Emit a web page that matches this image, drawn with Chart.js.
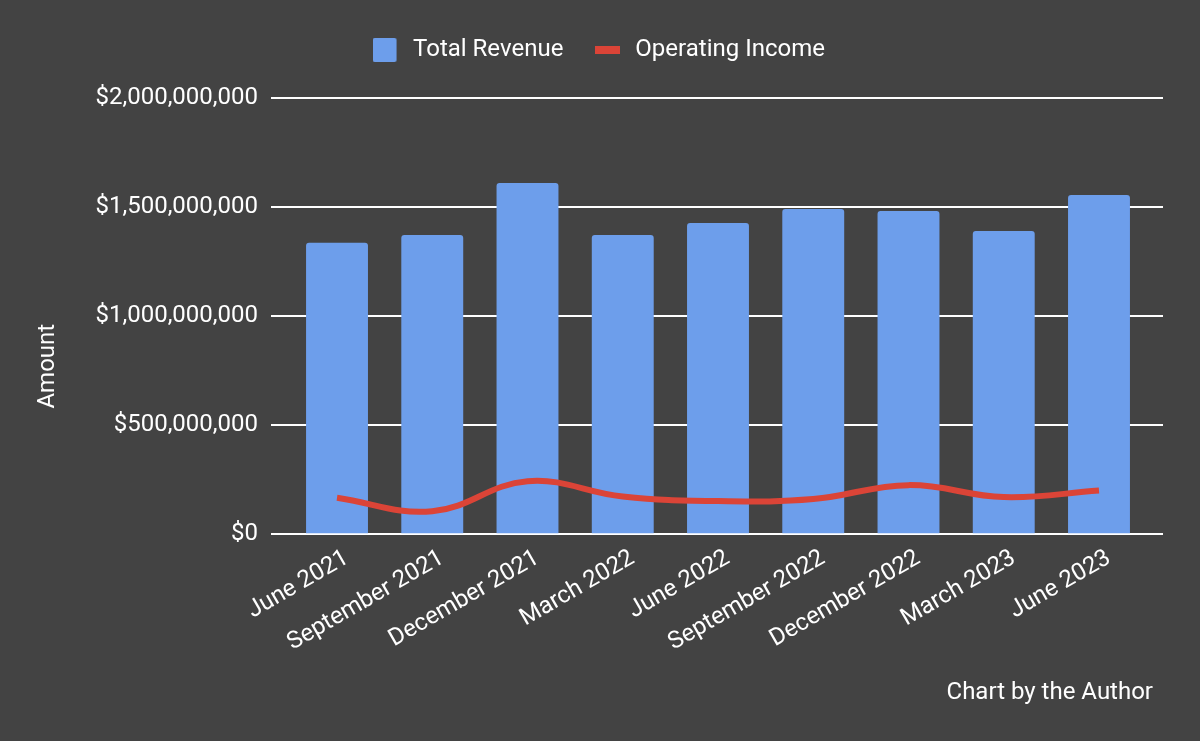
<!DOCTYPE html>
<html>
<head>
<meta charset="utf-8">
<script src="https://cdn.jsdelivr.net/npm/chart.js@4.4.1/dist/chart.umd.min.js"></script>
<style>
  html, body { margin: 0; padding: 0; background: #434343; }
  #chart { display: block; background: #434343; }
</style>
</head>
<body>
<canvas id="chart" width="1200" height="741"></canvas>
<script>
// quarterly figures
const quarters = [
  "June 2021", "September 2021", "December 2021", "March 2022", "June 2022",
  "September 2022", "December 2022", "March 2023", "June 2023",
];
const totalRevenue = [1.336e9, 1.372e9, 1.610e9, 1.372e9, 1.427e9, 1.491e9, 1.482e9, 1.390e9, 1.555e9];
const operatingIncome = [0.167e9, 0.105e9, 0.243e9, 0.173e9, 0.152e9, 0.161e9, 0.225e9, 0.170e9, 0.200e9];
const yTickValues = [0, 5e8, 1e9, 1.5e9, 2e9];

const BG = "#434343";
const BLUE = "#6d9eeb";
const RED = "#db4437";
const TEXT = "#ffffff";
const FONT = "Roboto, 'Noto Sans', sans-serif";
const SIZE = 24;

Chart.defaults.font.family = FONT;
Chart.defaults.color = TEXT;

// little legend glyphs: rounded square for the bars, thick dash for the line
function legendGlyph(kind) {
  const c = document.createElement("canvas");
  c.width = 25;
  c.height = 24;
  const g = c.getContext("2d");
  if (kind === "bar") {
    g.fillStyle = BLUE;
    g.beginPath();
    g.roundRect(0, 0, 24, 24, 2);
    g.fill();
  } else {
    g.fillStyle = RED;
    g.fillRect(0, 8, 25, 8);
  }
  return c;
}
const barGlyph = legendGlyph("bar");
const lineGlyph = legendGlyph("line");

const fmtMoney = (v) => "$" + Number(v).toLocaleString("en-US");

// pushes the plot down a bit below the legend
const legendGap = {
  id: "legendGap",
  beforeInit(chart) {
    const fit = chart.legend.fit;
    chart.legend.fit = function () {
      fit.bind(chart.legend)();
      this.height += 26;
    };
  },
};

// vertical axis title; the reference sits it lower than the plot's middle
const axisTitle = {
  id: "axisTitle",
  afterDraw(chart) {
    const { ctx, chartArea } = chart;
    ctx.save();
    ctx.translate(48, chartArea.bottom - 168);
    ctx.rotate(-Math.PI / 2);
    ctx.font = `${SIZE}px ${FONT}`;
    ctx.fillStyle = TEXT;
    ctx.textAlign = "center";
    ctx.textBaseline = "middle";
    ctx.fillText("Amount", 0, 0);
    ctx.restore();
  },
};

new Chart(document.getElementById("chart"), {
  data: {
    datasets: [
      {
        type: "line",
        label: "Operating Income",
        data: operatingIncome.map((v, i) => ({ x: i, y: v })),
        borderColor: RED,
        backgroundColor: RED,
        borderWidth: 6,
        pointRadius: 0,
        tension: 0.4,
        order: 0,
      },
      {
        type: "bar",
        label: "Total Revenue",
        data: totalRevenue.map((v, i) => ({ x: i, y: v })),
        backgroundColor: BLUE,
        borderRadius: 3,
        borderSkipped: "start",
        barPercentage: 0.65,
        categoryPercentage: 1,
        order: 1,
      },
    ],
  },
  options: {
    responsive: false,
    animation: false,
    layout: { padding: { left: 31, right: 37, top: 10, bottom: 24 } },
    scales: {
      x: {
        type: "linear",
        offset: false,
        min: -0.693,
        max: 8.567,
        afterBuildTicks: (s) => { s.ticks = quarters.map((q, i) => ({ value: i })); },
        afterFit: (s) => { s.height = 134; },
        grid: { display: false, offset: false },
        border: { display: false },
        ticks: {
          autoSkip: false,
          minRotation: 30,
          maxRotation: 30,
          padding: 2,
          labelOffset: 10,
          color: TEXT,
          font: { size: SIZE },
          callback: (v) => quarters[v] ?? "",
        },
      },
      y: {
        min: 0,
        max: 2e9,
        afterBuildTicks: (s) => { s.ticks = yTickValues.map((v) => ({ value: v })); },
        afterFit: (s) => { s.width = 240; },
        grid: { color: "#ffffff", lineWidth: 2, drawTicks: false },
        border: { display: false },
        ticks: { padding: 13, color: TEXT, font: { size: SIZE }, callback: fmtMoney },
      },
      // only carries short tick marks so the gridlines run a little past the last bar
      yRight: {
        position: "right",
        min: 0,
        max: 2e9,
        afterBuildTicks: (s) => { s.ticks = yTickValues.map((v) => ({ value: v })); },
        afterFit: (s) => { s.width = 10; },
        grid: { color: "#ffffff", lineWidth: 2, drawOnChartArea: false, drawTicks: true, tickLength: 10 },
        border: { display: false },
        ticks: { display: false },
      },
    },
    plugins: {
      legend: {
        position: "top",
        labels: {
          usePointStyle: true,
          pointStyleWidth: 32,
          padding: 28,
          color: TEXT,
          font: { size: SIZE },
          generateLabels: () => [
            { text: "Total Revenue", pointStyle: barGlyph, fontColor: TEXT, datasetIndex: 1 },
            { text: "Operating Income", pointStyle: lineGlyph, fontColor: TEXT, datasetIndex: 0 },
          ],
        },
      },
      title: {
        display: true,
        text: "Chart by the Author",
        position: "bottom",
        align: "end",
        fullSize: false,
        color: TEXT,
        font: { size: SIZE, weight: "normal" },
        padding: { top: 10, bottom: 10 },
      },
      tooltip: { enabled: false },
    },
  },
  plugins: [legendGap, axisTitle],
});
</script>
</body>
</html>
